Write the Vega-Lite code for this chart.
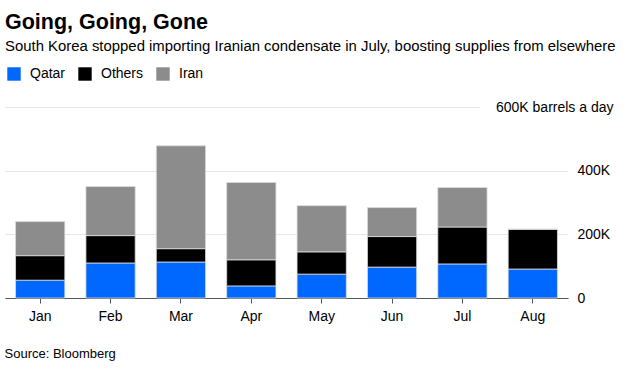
{
  "$schema": "https://vega.github.io/schema/vega-lite/v6.json",
  "width": 563,
  "height": 191,
  "autosize": {"type": "none"},
  "padding": {"left": 5, "top": 107, "right": 58, "bottom": 71},
  "background": "white",
  "title": {
    "text": "Going, Going, Gone",
    "subtitle": "South Korea stopped importing Iranian condensate in July, boosting supplies from elsewhere",
    "anchor": "start",
    "frame": "group",
    "font": "Liberation Sans",
    "fontSize": 21.5,
    "fontWeight": "bold",
    "color": "#000000",
    "subtitleFont": "Liberation Sans",
    "subtitleFontSize": 14.9,
    "subtitleColor": "#000000",
    "subtitlePadding": 6,
    "offset": 13
  },
  "config": {
    "view": {"stroke": null},
    "font": "Liberation Sans"
  },
  "data": {
    "values": [
      {"month": "Jan", "source": "Qatar", "value": 56000},
      {"month": "Jan", "source": "Others", "value": 77000},
      {"month": "Jan", "source": "Iran", "value": 107000},
      {"month": "Feb", "source": "Qatar", "value": 110000},
      {"month": "Feb", "source": "Others", "value": 86000},
      {"month": "Feb", "source": "Iran", "value": 154000},
      {"month": "Mar", "source": "Qatar", "value": 113000},
      {"month": "Mar", "source": "Others", "value": 42000},
      {"month": "Mar", "source": "Iran", "value": 323000},
      {"month": "Apr", "source": "Qatar", "value": 38000},
      {"month": "Apr", "source": "Others", "value": 82000},
      {"month": "Apr", "source": "Iran", "value": 243000},
      {"month": "May", "source": "Qatar", "value": 75000},
      {"month": "May", "source": "Others", "value": 70000},
      {"month": "May", "source": "Iran", "value": 145000},
      {"month": "Jun", "source": "Qatar", "value": 97000},
      {"month": "Jun", "source": "Others", "value": 96000},
      {"month": "Jun", "source": "Iran", "value": 91000},
      {"month": "Jul", "source": "Qatar", "value": 107000},
      {"month": "Jul", "source": "Others", "value": 116000},
      {"month": "Jul", "source": "Iran", "value": 124000},
      {"month": "Aug", "source": "Qatar", "value": 91000},
      {"month": "Aug", "source": "Others", "value": 125000},
      {"month": "Aug", "source": "Iran", "value": 0}
    ]
  },
  "mark": {"type": "bar", "stroke": "#dcdcdc", "strokeWidth": 0.8},
  "encoding": {
    "x": {
      "field": "month",
      "type": "nominal",
      "sort": ["Jan", "Feb", "Mar", "Apr", "May", "Jun", "Jul", "Aug"],
      "scale": {"paddingInner": 0.3, "paddingOuter": 0.15},
      "axis": {
        "title": "Source: Bloomberg",
        "titleAnchor": "start",
        "titleAlign": "left",
        "titleX": -1,
        "titleY": 55,
        "titleBaseline": "middle",
        "titleFont": "Liberation Sans",
        "titleFontSize": 13,
        "titleFontWeight": "normal",
        "titleColor": "#000000",
        "labelAngle": 0,
        "labelFont": "Liberation Sans",
        "labelFontSize": 14,
        "labelColor": "#000000",
        "labelPadding": 6,
        "tickSize": 5,
        "tickColor": "#555555",
        "domainColor": "#555555",
        "grid": false
      }
    },
    "y": {
      "field": "value",
      "type": "quantitative",
      "aggregate": "sum",
      "stack": "zero",
      "scale": {"domain": [0, 600000]},
      "axis": {
        "orient": "right",
        "title": null,
        "values": [0, 200000, 400000, 600000],
        "labelExpr": "datum.value === 600000 ? '600K barrels a day' : (datum.value === 0 ? '0' : format(datum.value / 1000, 'd') + 'K')",
        "labelFont": "Liberation Sans",
        "labelFontSize": 14,
        "labelColor": "#000000",
        "labelAlign": {"condition": {"test": "datum.value === 600000", "value": "right"}, "value": "left"},
        "labelPadding": {"condition": {"test": "datum.value === 600000", "value": 45}, "value": 9},
        "labelBaseline": "middle",
        "ticks": false,
        "domain": false,
        "grid": true,
        "gridColor": "#e6e6e6",
        "gridWidth": 1,
        "gridDash": {"condition": {"test": "datum.value === 600000", "value": [0, 88, 480]}, "value": []}
      }
    },
    "color": {
      "field": "source",
      "type": "nominal",
      "sort": ["Qatar", "Others", "Iran"],
      "scale": {"domain": ["Qatar", "Others", "Iran"], "range": ["#0068ff", "#000000", "#8c8c8c"]},
      "legend": {
        "title": null,
        "orient": "none",
        "legendX": 2,
        "legendY": -40,
        "direction": "horizontal",
        "symbolType": "square",
        "symbolSize": 180,
        "symbolStrokeWidth": 0,
        "labelFont": "Liberation Sans",
        "labelFontSize": 14,
        "labelColor": "#000000",
        "labelOffset": 9,
        "columnPadding": 12
      }
    },
    "order": {"field": "source", "sort": "descending"}
  }
}
